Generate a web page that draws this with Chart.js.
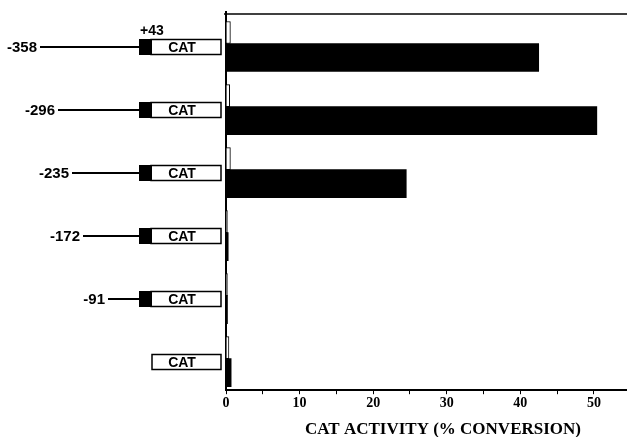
<!DOCTYPE html>
<html>
<head>
<meta charset="utf-8">
<script src="https://cdn.jsdelivr.net/npm/chart.js@4/dist/chart.umd.min.js"></script>
<style>
  html, body { margin: 0; padding: 0; background: #fff; }
  .wrap { width: 627px; height: 437px; }
</style>
</head>
<body>
<div class="wrap"><canvas id="chart" width="627" height="437"></canvas></div>
<script>
const promoters = ['-358', '-296', '-235', '-172', '-91', ''];
const controlValues = [0.6, 0.5, 0.6, 0.2, 0.2, 0.4];
const catValues = [42.5, 50.4, 24.5, 0.3, 0.2, 0.7];
const xTicks = [0, 10, 20, 30, 40, 50];

// where each promoter line starts on the left (px)
const lineStart = [40, 58, 72, 83, 108];

const constructs = {
	id: 'constructs',
	afterDraw(chart) {
		const ctx = chart.ctx;
		const yScale = chart.scales.y;
		const area = chart.chartArea;
		ctx.save();
		ctx.strokeStyle = '#000';
		ctx.fillStyle = '#000';

		// top frame line
		ctx.lineWidth = 1.5;
		ctx.beginPath();
		ctx.moveTo(area.left - 2, area.top + 2);
		ctx.lineTo(area.right, area.top + 2);
		ctx.stroke();

		promoters.forEach((p, i) => {
			const cy = Math.round(yScale.getPixelForValue(i)) + 3;
			if (p !== '') {
				ctx.font = 'bold 15px "Liberation Sans", Arial, sans-serif';
				ctx.textAlign = 'right';
				ctx.textBaseline = 'middle';
				ctx.fillText(p, lineStart[i] - 3, cy + 1);
				ctx.lineWidth = 2;
				ctx.beginPath();
				ctx.moveTo(lineStart[i], cy);
				ctx.lineTo(139, cy);
				ctx.stroke();
				ctx.fillRect(139, cy - 8, 13, 16);
			}
			ctx.lineWidth = 1.5;
			ctx.strokeRect(p !== '' ? 151 : 152, cy - 7.5, p !== '' ? 70 : 69, 15);
			ctx.font = 'bold 14px "Liberation Sans", Arial, sans-serif';
			ctx.textAlign = 'center';
			ctx.fillText('CAT', 182, cy + 1);
		});

		ctx.font = 'bold 14px "Liberation Sans", Arial, sans-serif';
		ctx.textAlign = 'left';
		ctx.textBaseline = 'alphabetic';
		ctx.fillText('+43', 140, 35);

		ctx.font = 'bold 17px "Liberation Serif", "Times New Roman", serif';
		ctx.textAlign = 'center';
		ctx.textBaseline = 'middle';
		ctx.fillText('CAT ACTIVITY (% CONVERSION)', 443, 430);
		ctx.restore();
	},
};

new Chart(document.getElementById('chart'), {
	type: 'bar',
	data: {
		labels: promoters,
		datasets: [
			{
				data: controlValues,
				backgroundColor: '#fff',
				borderColor: '#000',
				borderWidth: 1,
				barThickness: 22,
			},
			{
				data: catValues,
				backgroundColor: '#000',
				borderWidth: 0,
				barThickness: 28,
			},
		],
	},
	options: {
		indexAxis: 'y',
		responsive: false,
		animation: false,
		layout: {
			padding: { left: 218, top: 12, right: 0, bottom: 24 },
		},
		scales: {
			x: {
				min: 0,
				max: 54.5,
				border: { color: '#000', width: 2 },
				grid: {
					drawOnChartArea: false,
					color: '#000',
					tickLength: 4,
				},
				ticks: {
					stepSize: 5,
					includeBounds: false,
					color: '#000',
					padding: 1,
					maxRotation: 0,
					font: { family: '"Liberation Serif", "Times New Roman", serif', size: 14, weight: 'bold' },
					callback: (v) => (xTicks.includes(v) ? v : ''),
				},
			},
			y: {
				border: { color: '#000', width: 2 },
				grid: { display: false },
				ticks: { display: false },
			},
		},
		plugins: {
			legend: { display: false },
			tooltip: { enabled: false },
		},
	},
	plugins: [constructs],
});
</script>
</body>
</html>
